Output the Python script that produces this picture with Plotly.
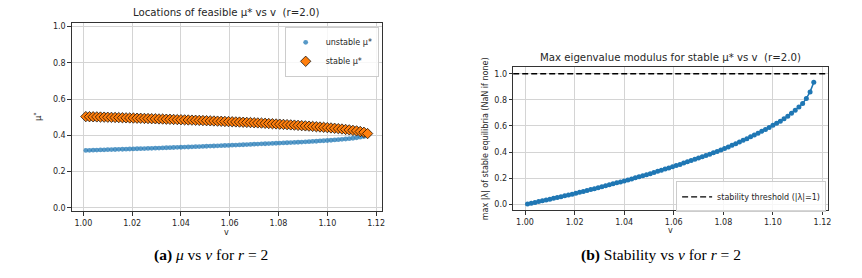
import plotly.graph_objects as go

# ---------------- data ----------------
v_grid = [1.0010, 1.0025, 1.0040, 1.0055, 1.0070, 1.0085, 1.0100, 1.0115, 1.0130, 1.0145,
          1.0160, 1.0175, 1.0190, 1.0205, 1.0220, 1.0235, 1.0250, 1.0265, 1.0280, 1.0295,
          1.0310, 1.0325, 1.0340, 1.0355, 1.0370, 1.0385, 1.0400, 1.0415, 1.0430, 1.0445,
          1.0460, 1.0475, 1.0490, 1.0505, 1.0520, 1.0535, 1.0550, 1.0565, 1.0580, 1.0595,
          1.0610, 1.0625, 1.0640, 1.0655, 1.0670, 1.0685, 1.0700, 1.0715, 1.0730, 1.0745,
          1.0760, 1.0775, 1.0790, 1.0805, 1.0820, 1.0835, 1.0850, 1.0865, 1.0880, 1.0895,
          1.0910, 1.0925, 1.0940, 1.0955, 1.0970, 1.0985, 1.1000, 1.1015, 1.1030, 1.1045,
          1.1060, 1.1075, 1.1090, 1.1105, 1.1120, 1.1135, 1.1150, 1.1165]

mu_unstable = [0.3168, 0.3174, 0.3180, 0.3186, 0.3193, 0.3199, 0.3205, 0.3211, 0.3218, 0.3224,
               0.3231, 0.3237, 0.3244, 0.3250, 0.3257, 0.3263, 0.3270, 0.3277, 0.3284, 0.3291,
               0.3298, 0.3305, 0.3312, 0.3319, 0.3326, 0.3334, 0.3341, 0.3349, 0.3356, 0.3364,
               0.3371, 0.3379, 0.3387, 0.3395, 0.3403, 0.3411, 0.3419, 0.3428, 0.3436, 0.3444,
               0.3453, 0.3462, 0.3471, 0.3480, 0.3489, 0.3498, 0.3508, 0.3517, 0.3527, 0.3535,
               0.3543, 0.3552, 0.3561, 0.3569, 0.3578, 0.3588, 0.3598, 0.3607, 0.3617, 0.3628,
               0.3639, 0.3650, 0.3661, 0.3673, 0.3687, 0.3700, 0.3713, 0.3727, 0.3742, 0.3759,
               0.3776, 0.3795, 0.3815, 0.3838, 0.3864, 0.3895, 0.3934, 0.4001]

mu_stable = [0.5032, 0.5026, 0.5020, 0.5014, 0.5007, 0.5001, 0.4995, 0.4989, 0.4982, 0.4976,
             0.4969, 0.4963, 0.4956, 0.4950, 0.4943, 0.4937, 0.4930, 0.4923, 0.4916, 0.4909,
             0.4902, 0.4895, 0.4888, 0.4881, 0.4874, 0.4866, 0.4859, 0.4851, 0.4844, 0.4836,
             0.4829, 0.4821, 0.4813, 0.4805, 0.4797, 0.4789, 0.4781, 0.4772, 0.4764, 0.4756,
             0.4747, 0.4738, 0.4729, 0.4720, 0.4711, 0.4702, 0.4692, 0.4683, 0.4673, 0.4661,
             0.4649, 0.4638, 0.4625, 0.4613, 0.4600, 0.4588, 0.4574, 0.4561, 0.4547, 0.4532,
             0.4519, 0.4504, 0.4489, 0.4473, 0.4457, 0.4440, 0.4423, 0.4405, 0.4386, 0.4367,
             0.4346, 0.4323, 0.4299, 0.4272, 0.4244, 0.4209, 0.4166, 0.4095]

max_abs_lambda = [0.003, 0.009, 0.015, 0.022, 0.028, 0.034, 0.040, 0.046, 0.053, 0.059,
                  0.065, 0.072, 0.078, 0.085, 0.092, 0.099, 0.106, 0.113, 0.120, 0.127,
                  0.135, 0.142, 0.150, 0.157, 0.165, 0.172, 0.179, 0.187, 0.195, 0.203,
                  0.211, 0.219, 0.227, 0.235, 0.244, 0.253, 0.261, 0.270, 0.279, 0.288,
                  0.297, 0.306, 0.316, 0.326, 0.335, 0.345, 0.355, 0.364, 0.374, 0.384,
                  0.395, 0.405, 0.416, 0.428, 0.440, 0.452, 0.464, 0.477, 0.490, 0.503,
                  0.517, 0.531, 0.545, 0.560, 0.574, 0.589, 0.605, 0.620, 0.637, 0.655,
                  0.675, 0.697, 0.720, 0.745, 0.773, 0.811, 0.861, 0.934]

threshold = 1.0
x_ticks = [1.00, 1.02, 1.04, 1.06, 1.08, 1.10, 1.12]
y_ticks = [0.0, 0.2, 0.4, 0.6, 0.8, 1.0]

title_left = "Locations of feasible μ* vs v  (r=2.0)"
title_right = "Max eigenvalue modulus for stable μ* vs v  (r=2.0)"
ylabel_right = "max |λ| of stable equilibria (NaN if none)"
caption_a = "<b>(a)</b> <i>μ</i> vs <i>v</i> for <i>r</i> = 2"
caption_b = "<b>(b)</b> Stability vs <i>v</i> for <i>r</i> = 2"

# ---------------- figure ----------------
W, H = 862, 278
BLUE = "#1f77b4"
ORANGE = "#ff7f0e"
TXT = "#262626"
FONT = "DejaVu Sans"
SMALL = 8
TITLE = 10.2

def px(x):
    return x / W

def py(y):
    return (H - y) / H

fig = go.Figure()

fig.add_trace(go.Scatter(
    x=v_grid, y=mu_unstable, mode="markers", name="unstable μ*",
    marker=dict(color=BLUE, size=4.8, opacity=0.75, line=dict(width=0)),
    xaxis="x", yaxis="y", legend="legend"))
fig.add_trace(go.Scatter(
    x=v_grid, y=mu_stable, mode="markers", name="stable μ*",
    marker=dict(color=ORANGE, symbol="diamond", size=8, line=dict(color="black", width=0.7)),
    xaxis="x", yaxis="y", legend="legend"))

fig.add_trace(go.Scatter(
    x=v_grid, y=max_abs_lambda, mode="lines+markers", showlegend=False,
    line=dict(color=BLUE, width=1.5), marker=dict(color=BLUE, size=5),
    xaxis="x2", yaxis="y2"))
fig.add_trace(go.Scatter(
    x=[None], y=[None], mode="lines", name="stability threshold (|λ|=1)",
    line=dict(color="black", width=1.3, dash="6px,3px"),
    xaxis="x2", yaxis="y2", legend="legend2"))

fig.add_shape(type="line", xref="x2 domain", yref="y2", x0=0, x1=1, y0=threshold, y1=threshold,
              line=dict(color="black", width=1.3, dash="6px,3px"))

axis_common = dict(
    showline=True, mirror=True, linecolor="#333333", linewidth=1,
    showgrid=True, gridcolor="#d4d4d4", gridwidth=0.8,
    ticks="outside", ticklen=3.5, tickcolor="#333333", tickwidth=0.8,
    tickfont=dict(family=FONT, size=SMALL, color=TXT),
    zeroline=False,
)

x_range = [0.99523, 1.12228]

fig.update_layout(
    width=W, height=H,
    margin=dict(l=0, r=0, t=0, b=0),
    paper_bgcolor="white", plot_bgcolor="white",
    font=dict(family=FONT, color=TXT),
    xaxis=dict(domain=[px(72), px(383)], range=x_range, tickvals=x_ticks,
               tickformat=".2f", anchor="y", **axis_common),
    yaxis=dict(domain=[py(212), py(22)], range=[-0.02, 1.02], tickvals=y_ticks,
               tickformat=".1f", anchor="x", **axis_common),
    xaxis2=dict(domain=[px(515), px(831)], range=x_range, tickvals=x_ticks,
                tickformat=".2f", anchor="y2", **axis_common),
    yaxis2=dict(domain=[py(211), py(66.7)], range=[-0.0469, 1.0499], tickvals=y_ticks,
                tickformat=".1f", anchor="x2", **axis_common),
    legend=dict(x=px(380), y=py(26), xanchor="right", yanchor="top",
                bgcolor="rgba(255,255,255,0.8)", bordercolor="#cccccc", borderwidth=1,
                font=dict(family=FONT, size=SMALL, color=TXT), tracegroupgap=0,
                itemwidth=30),
    legend2=dict(x=px(829), y=py(213), xanchor="right", yanchor="bottom",
                 bgcolor="rgba(255,255,255,0.8)", bordercolor="#cccccc", borderwidth=1,
                 font=dict(family=FONT, size=SMALL, color=TXT), itemwidth=30),
    showlegend=True,
)

annots = [
    dict(text=title_left, x=px(227.5), y=py(12), size=TITLE),
    dict(text=title_right, x=px(673), y=py(57), size=TITLE),
    dict(text="v", x=px(227.5), y=py(233), size=SMALL),
    dict(text="v", x=px(673), y=py(231.5), size=SMALL),
    dict(text="μ<sup>*</sup>", x=px(38), y=py(117), textangle=-90, size=SMALL + 0.5),
    dict(text=ylabel_right, x=px(487), y=py(139), textangle=-90, size=SMALL),
]
for a in annots:
    size = a.pop("size")
    fig.add_annotation(xref="paper", yref="paper", showarrow=False,
                       xanchor="center", yanchor="middle",
                       font=dict(family=FONT, color=TXT, size=size), **a)

for text, xc in [(caption_a, 212), (caption_b, 663)]:
    fig.add_annotation(xref="paper", yref="paper", showarrow=False, text=text,
                       x=px(xc), y=py(256), xanchor="center", yanchor="middle",
                       font=dict(family="Liberation Serif", size=15.5, color="black"))

fig.write_html("out.html", post_script="document.body.style.margin='0';",
               config={"displayModeBar": False})
